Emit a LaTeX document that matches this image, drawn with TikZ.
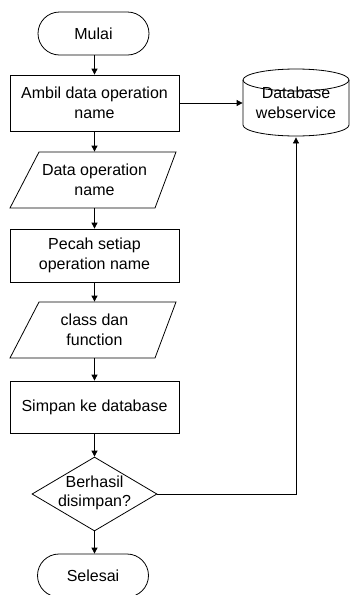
\documentclass[tikz,border=0pt]{standalone}
\usepackage{fontspec}
\setmainfont{Liberation Sans}
\usetikzlibrary{shapes.geometric,arrows.meta}
\tikzset{
  base/.style={line width=0.8pt, font=\fontsize{16}{19.5}\selectfont, align=center, inner sep=0pt},
  term/.style={base, draw, rectangle, rounded corners=21.5pt, minimum width=111pt, minimum height=43pt},
  proc/.style={base, draw, rectangle, minimum width=169pt},
  iobox/.style={base, rectangle, minimum width=120pt, minimum height=56pt},
  decision/.style={base, draw, diamond, minimum width=125pt, minimum height=74pt},
  dbbox/.style={base, rectangle, minimum width=106pt, minimum height=68pt},
  shapeline/.style={line width=0.8pt},
  arrow/.style={line width=0.8pt, -{Triangle[length=6pt,width=6pt]}}
}
\begin{document}
\begin{tikzpicture}[x=1pt,y=-1pt]
\useasboundingbox (0,0) rectangle (350,595);
% nodes
\node[term] (mulai) at (93.5,33.5) {Mulai};
\node[proc, minimum height=56pt] (ambil) at (94.5,103) {Ambil data operation\\name};
\node[iobox] (io1) at (94.5,180) {Data operation\\name};
\draw[shapeline] (39,152) -- (176,152) -- (155,208) -- (10,208) -- cycle;
\node[proc, minimum height=53pt] (pecah) at (94.5,255.5) {Pecah setiap\\operation name};
\node[iobox] (io2) at (94.5,330) {class dan\\function};
\draw[shapeline] (39,302) -- (176,302) -- (155,358) -- (10,358) -- cycle;
\node[proc, minimum height=52pt] (simpan) at (94.5,407) {Simpan ke database};
\node[decision] (dec) at (94.5,494) {};
\node[base] (dectext) at (94.5,493) {Berhasil\\disimpan?};
\node[term] (selesai) at (93,575.5) {Selesai};
% database cylinder
\node[dbbox] (db) at (296,103) {Database\\webservice};
\draw[shapeline] (296,80) ellipse [x radius=53pt, y radius=11pt];
\draw[shapeline] (243,80) -- (243,125) arc[start angle=180, end angle=360, x radius=53pt, y radius=11pt] -- (349,80);
% connectors
\draw[arrow] (mulai.south -| ambil.north) -- (ambil.north);
\draw[arrow] (ambil.south) -- (io1.north);
\draw[arrow] (io1.south) -- (pecah.north);
\draw[arrow] (pecah.south) -- (io2.north);
\draw[arrow] (io2.south) -- (simpan.north);
\draw[arrow] (simpan.south) -- (dec.north);
\draw[arrow] (dec.south) -- (selesai.north -| dec.south);
\draw[arrow] (ambil.east) -- (db.west);
\draw[arrow] (dec.east) -| (db.south);
\end{tikzpicture}
\end{document}
